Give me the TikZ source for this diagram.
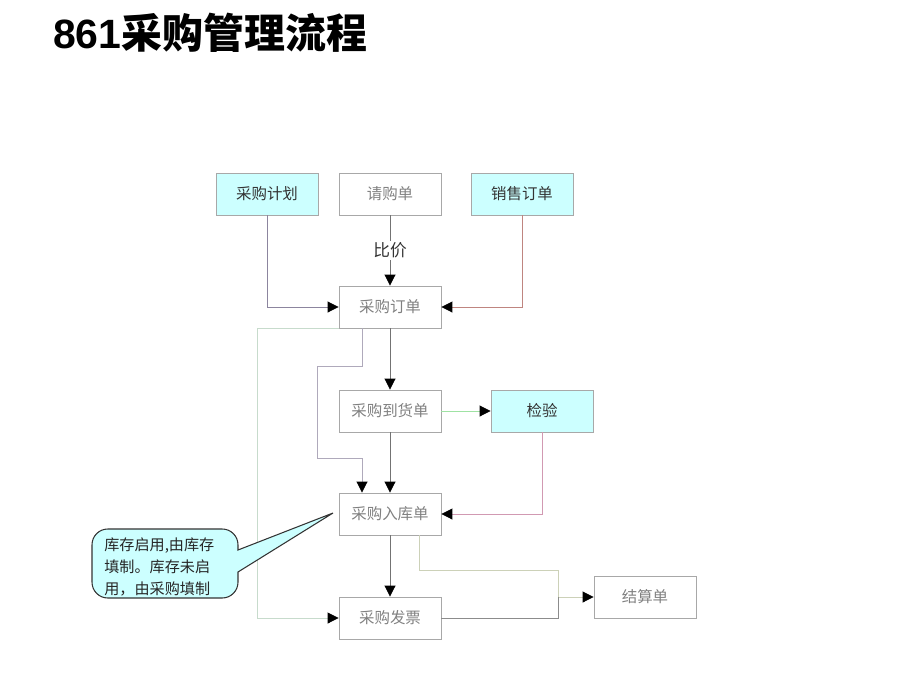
\documentclass[tikz,border=0pt]{standalone}
\usepackage{fontspec}
\setmainfont{Noto Sans CJK SC}
\newfontfamily\digitfont{Liberation Sans}
\usetikzlibrary{arrows.meta,calc}
\definecolor{BoxClr}{rgb}{0.8,1,1}
\definecolor{EdgeClr}{rgb}{0.66,0.66,0.66}
\definecolor{PlanClr}{rgb}{0.55,0.52,0.62}
\definecolor{SaleClr}{rgb}{0.75,0.52,0.5}
\definecolor{CheckClr}{rgb}{0.82,0.6,0.7}
\definecolor{LeftClr}{rgb}{0.78,0.86,0.8}
\definecolor{SettleClr}{rgb}{0.8,0.82,0.72}

\begin{document}
\begin{tikzpicture}[x=0.02cm,y=-0.02cm,
  doc/.style={draw=EdgeClr,line width=0.5pt,minimum width=2.04cm,minimum height=0.84cm,
    inner sep=0pt,font=\fontsize{8.8}{10}\selectfont,text=black!50},
  src/.style={doc,fill=BoxClr,text=black!80},
  flow/.style={line width=0.45pt,draw=black!55,
    -{Triangle[length=6.2pt,width=6.2pt,color=black]}}]
\useasboundingbox (0,0) rectangle (920,690);

\node[anchor=west,font=\fontsize{23.3}{28}\selectfont\bfseries] (title) at (47,33)
  {{\digitfont 861}采购管理流程};

% source documents
\node[src] (jihua) at (267,194) {采购计划};
\node[doc] (qinggou) at (390,194) {请购单};
\node[src] (xiaoshou) at (522,194) {销售订单};

% purchase chain
\node[doc] (dingdan) at (390,307) {采购订单};
\node[doc] (daohuo) at (390,411) {采购到货单};
\node[src] (jianyan) at (542,411) {检验};
\node[doc] (ruku) at (390,514) {采购入库单};
\node[doc] (fapiao) at (390,618) {采购发票};
\node[doc] (jiesuan) at (645,597) {结算单};

\coordinate (merge) at (558,597);

\draw[flow,draw=PlanClr] (jihua.south) |- (dingdan.west);
\draw[flow] (qinggou) -- node[fill=white,inner sep=1pt,text=black!80,
  font=\fontsize{9.5}{11}\selectfont] (bijia) {比价} (dingdan);
\draw[flow,draw=SaleClr] (xiaoshou.south) |- (dingdan.east);
\draw[flow] (dingdan) -- (daohuo);
\draw[flow,draw=PlanClr!70] ($(dingdan.south)+(-28,0)$) -- ++(0,38) -| (317,458)
  -| ($(ruku.north)+(-28,0)$);
\draw[flow,draw=LeftClr] (dingdan.south west) -- ++(-81,0) |- (fapiao.west);
\draw[flow,draw=LeftClr!80!green] (daohuo) -- (jianyan);
\draw[flow] (daohuo) -- (ruku);
\draw[flow,draw=CheckClr] (jianyan.south) |- (ruku.east);
\draw[flow] (ruku) -- (fapiao);
\draw[flow,draw=SettleClr] ($(ruku.south)+(29,0)$) |- (merge |- 0,570) -- (merge) -- (jiesuan.west);
\draw[line width=0.45pt,draw=black!45] (fapiao.east) -| (merge);

% note
\draw[line width=0.6pt,draw=black!80,fill=BoxClr]
  (92,563) [rounded corners=9] |- (238,529) [sharp corners] -- (238,550) -- (333,513)
  -- (238,572) [rounded corners=9] |- (92,598) [sharp corners] -- cycle;
\node[align=left,anchor=west,inner sep=0pt,font=\fontsize{8.6}{12.4}\selectfont,text=black!85]
  (note) at (104,567) {库存启用,由库存\\填制。库存未启\\用，由采购填制};
\end{tikzpicture}
\end{document}
